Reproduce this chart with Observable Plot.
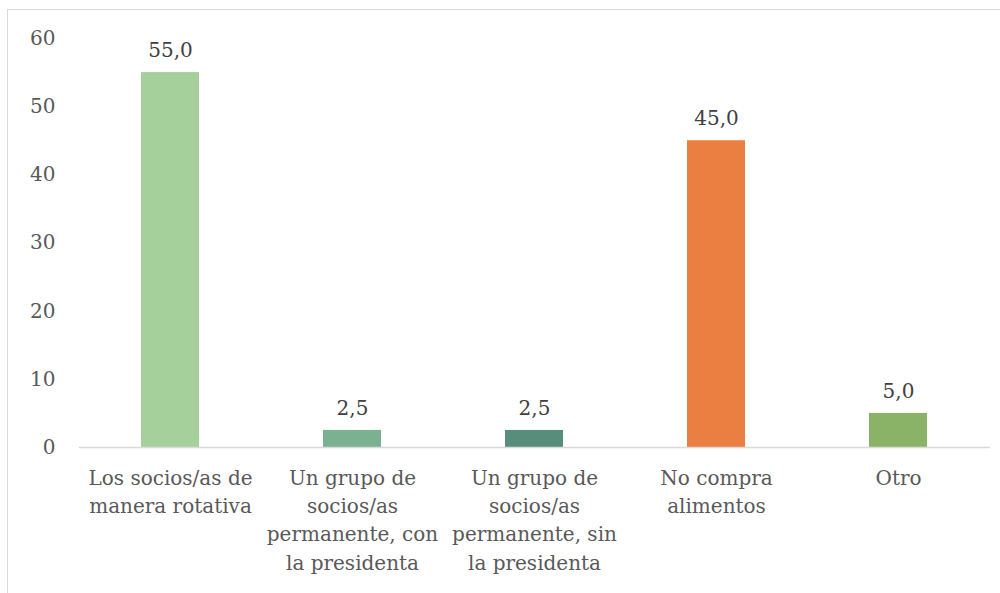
<!DOCTYPE html>
<html>
<head>
<meta charset="utf-8">
<script src="https://cdn.jsdelivr.net/npm/d3@7"></script>
<script src="https://cdn.jsdelivr.net/npm/@observablehq/plot@0.6"></script>
<style>
  html, body { margin: 0; padding: 0; background: #fff; overflow: hidden; }
  #frame { position: absolute; left: 7px; top: 9px; width: 1000px; height: 700px;
           border-left: 1.5px solid #d9d9d9; border-top: 1.5px solid #d9d9d9; box-sizing: border-box; }
  #chart { position: absolute; left: 0; top: 0; }
</style>
</head>
<body>
<div id="frame"></div>
<div id="chart"></div>
<script>
const categories = [
  "Los socios/as de\nmanera rotativa",
  "Un grupo de\nsocios/as\npermanente, con\nla presidenta",
  "Un grupo de\nsocios/as\npermanente, sin\nla presidenta",
  "No compra\nalimentos",
  "Otro"
];
const values = [55.0, 2.5, 2.5, 45.0, 5.0];
const barColors = ["#a6d09b", "#7ab190", "#568e7b", "#ea7f41", "#8bb367"];
const yTicks = [0, 10, 20, 30, 40, 50, 60];

const data = categories.map((c, i) => ({ cat: c, value: values[i] }));
const fmt = v => v.toFixed(1).replace(".", ",");

const chart = Plot.plot({
  width: 1000,
  height: 593,
  marginLeft: 79,
  marginRight: 10,
  marginTop: 38,
  marginBottom: 146,
  style: { fontFamily: "'DejaVu Serif', serif", fontSize: "20px", background: "transparent" },
  x: { domain: categories, paddingInner: 0.68, paddingOuter: 0.34, label: null },
  y: { domain: [0, 60], label: null },
  color: { domain: categories, range: barColors },
  marks: [
    Plot.axisY({ ticks: yTicks, tickSize: 0, tickPadding: 24, fill: "#595959", fontSize: 20, label: null }),
    Plot.axisX({ tickSize: 0, tickPadding: 17, fill: "#595959", fontSize: 20, lineHeight: 1.42, lineAnchor: "top", label: null }),
    Plot.barY(data, { x: "cat", y: "value", fill: "cat" }),
    Plot.ruleY([0], { stroke: "#d9d9d9", strokeWidth: 1.5 }),
    Plot.text(data, { x: "cat", y: "value", text: d => fmt(d.value), dy: -22, fill: "#404040", fontSize: 20 })
  ]
});
document.getElementById("chart").appendChild(chart);
</script>
</body>
</html>
